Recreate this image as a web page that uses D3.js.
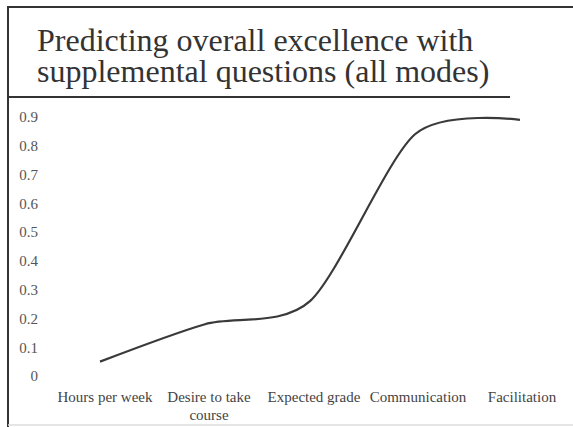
<!DOCTYPE html>
<html>
<head>
<meta charset="utf-8">
<script src="https://cdn.jsdelivr.net/npm/d3@7"></script>
<style>
  body { margin: 0; background: #fff; }
</style>
</head>
<body>
<svg id="chart" width="573" height="427"></svg>
<script>
// chart values
var categories = ["Hours per week", "Desire to take course", "Expected grade", "Communication", "Facilitation"];
var values = [0.05, 0.18, 0.26, 0.84, 0.89];
var yTicks = [0, 0.1, 0.2, 0.3, 0.4, 0.5, 0.6, 0.7, 0.8, 0.9];
var titleLines = ["Predicting overall excellence with", "supplemental questions (all modes)"];

var width = 573, height = 427;
var serif = "Liberation Serif";
var svg = d3.select("#chart");

// slide frame
svg.append("line").attr("x1", 8).attr("x2", width).attr("y1", 7).attr("y2", 7)
    .attr("stroke", "#333").attr("stroke-width", 2);
svg.append("line").attr("x1", 8).attr("x2", 8).attr("y1", 6).attr("y2", height)
    .attr("stroke", "#333").attr("stroke-width", 2);
svg.append("line").attr("x1", 8).attr("x2", 510).attr("y1", 97).attr("y2", 97)
    .attr("stroke", "#333").attr("stroke-width", 2);
svg.append("line").attr("x1", 8).attr("x2", width).attr("y1", 425).attr("y2", 425)
    .attr("stroke", "#ddd").attr("stroke-width", 1.5);

// title
svg.selectAll(".title").data(titleLines).enter()
    .append("text").attr("class", "title")
    .attr("x", 37).attr("y", function(d, i) { return 51 + i * 31; })
    .attr("font-family", serif)
    .attr("font-size", 32)
    .attr("fill", "#333")
    .text(function(d) { return d; });

var x = d3.scalePoint().domain(categories).range([100, 520]);
var y = d3.scaleLinear().domain([0, 0.9]).range([376, 117]);

// y axis (labels only)
var yAxis = d3.axisLeft(y).tickValues(yTicks).tickSize(0).tickPadding(0)
    .tickFormat(function(d) { return d === 0 ? "0" : d3.format(".1f")(d); });
var gy = svg.append("g").attr("transform", "translate(38,0)").call(yAxis);
gy.attr("font-family", serif).attr("font-size", 15);
gy.select(".domain").remove();
gy.selectAll("text").attr("fill", "#555");

// x axis (labels only, wrapped)
var labelShift = [5, 4, 4, 3, 2];
var gx = svg.append("g").attr("font-family", serif).attr("font-size", 15);
categories.forEach(function(c, i) {
    var lines = c === "Desire to take course" ? ["Desire to take", "course"] : [c];
    var cx = x(c) + labelShift[i];
    var t = gx.append("text")
        .attr("text-anchor", "middle")
        .attr("y", 402)
        .attr("fill", "#444");
    lines.forEach(function(l, j) {
        t.append("tspan").attr("x", cx).attr("dy", j === 0 ? 0 : 18).text(l);
    });
});

// smoothed line
var line = d3.line()
    .x(function(d, i) { return x(categories[i]); })
    .y(function(d) { return y(d); })
    .curve(d3.curveCardinal.tension(0.2));
svg.append("path").datum(values)
    .attr("d", line)
    .attr("fill", "none")
    .attr("stroke", "#3a3a3a")
    .attr("stroke-width", 2.2);
</script>
</body>
</html>
